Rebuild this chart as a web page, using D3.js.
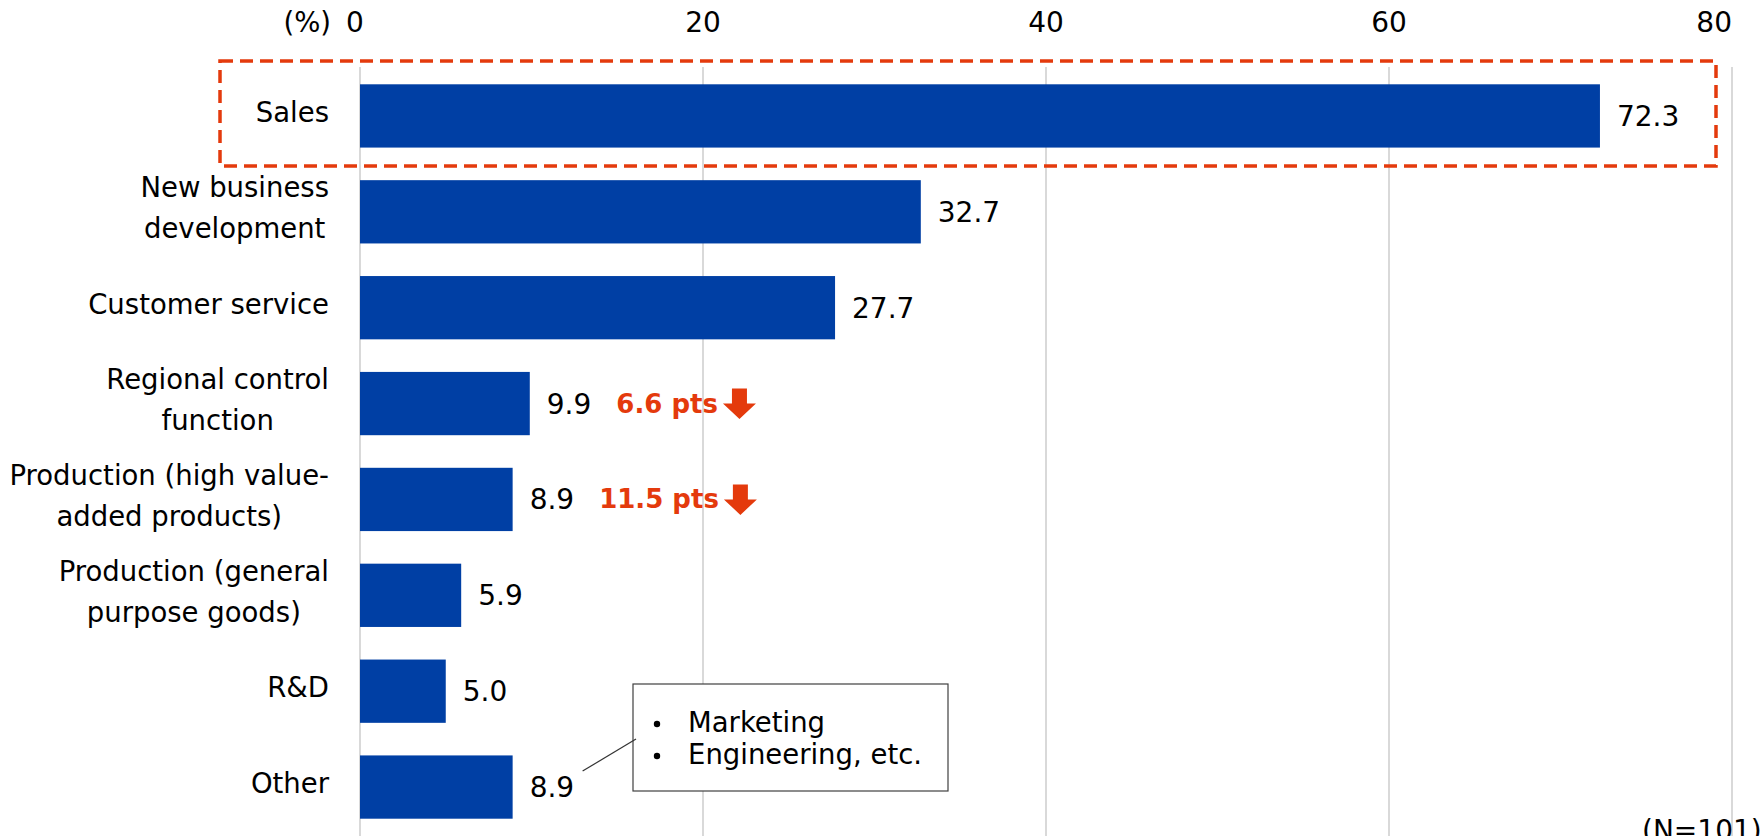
<!DOCTYPE html>
<html>
<head>
<meta charset="utf-8">
<script src="https://cdn.jsdelivr.net/npm/d3@7"></script>
<style>
  html, body { margin: 0; padding: 0; background: #fff; overflow: hidden; }
  svg { display: block; font-family: "DejaVu Sans", Verdana, sans-serif; }
</style>
</head>
<body>
<svg id="chart" width="1762" height="836"></svg>
<script>
// Functions expected to be expanded (multiple answers), share of respondents
const categories = [
  ["Sales"],
  ["New business", "development"],
  ["Customer service"],
  ["Regional control", "function"],
  ["Production (high value-", "added products)"],
  ["Production (general", "purpose goods)"],
  ["R&D"],
  ["Other"]
];
const values = [72.3, 32.7, 27.7, 9.9, 8.9, 5.9, 5.0, 8.9];
const xTicks = [0, 20, 40, 60, 80];
// Decline versus previous survey, keyed by category index
const declines = [{ index: 3, label: "6.6 pts" }, { index: 4, label: "11.5 pts" }];
const otherNotes = ["Marketing", "Engineering, etc."];
const unitLabel = "(%)";
const sampleLabel = "(N=101)";

const BLUE = "#003fa4";
const RED = "#e43a0c";
const GRID = "#d9d9d9";
const FS = 27.5;
const NUM_FS = 28;

const svg = d3.select("#chart");
const keys = categories.map((c, i) => i);

const x = d3.scaleLinear().domain([0, 80]).range([360, 1732]);
const y = d3.scaleBand().domain(keys).range([68, 835]).paddingInner(0.34).paddingOuter(0.17);

// Vertical gridlines
svg.append("g").selectAll("line").data(xTicks).join("line")
  .attr("x1", d => x(d)).attr("x2", d => x(d))
  .attr("y1", 67).attr("y2", 836)
  .attr("stroke", GRID).attr("stroke-width", 2);

// Top tick labels
svg.append("g").selectAll("text").data(xTicks).join("text")
  .attr("x", (d, i) => x(d) + (i === 0 ? -5 : 0))
  .attr("y", 32)
  .attr("text-anchor", (d, i) => i === xTicks.length - 1 ? "end" : "middle")
  .attr("font-size", NUM_FS).attr("fill", "#000")
  .text(d => d);

svg.append("text")
  .attr("x", 331).attr("y", 32)
  .attr("text-anchor", "end")
  .attr("font-size", FS).attr("fill", "#000")
  .text(unitLabel);

// Bars
svg.append("g").selectAll("rect").data(values).join("rect")
  .attr("x", x(0))
  .attr("y", (d, i) => y(i))
  .attr("width", d => x(d) - x(0))
  .attr("height", y.bandwidth())
  .attr("fill", BLUE);

// Value labels
const valueLabels = svg.append("g").selectAll("text").data(values).join("text")
  .attr("x", d => x(d) + 17)
  .attr("y", (d, i) => y(i) + y.bandwidth() / 2 + 10)
  .attr("font-size", NUM_FS).attr("fill", "#000")
  .text(d => d.toFixed(1));

// Category labels: lines centred within a right-aligned block
const lineH = 41;
const labelRight = 329;
const catG = svg.append("g");
categories.forEach((lines, i) => {
  const cy = y(i) + y.bandwidth() / 2;
  const g = catG.append("g");
  const texts = lines.map((ln, j) => g.append("text")
    .attr("font-size", FS).attr("fill", "#000")
    .attr("text-anchor", "middle")
    .attr("y", cy + 6 + (j - (lines.length - 1) / 2) * lineH)
    .text(ln));
  const maxW = d3.max(texts, t => t.node().getComputedTextLength());
  texts.forEach(t => t.attr("x", labelRight - maxW / 2));
});

// Highlight frame around the top category
svg.append("rect")
  .attr("x", 220).attr("y", 61)
  .attr("width", 1716 - 220).attr("height", 166 - 61)
  .attr("fill", "none").attr("stroke", RED)
  .attr("stroke-width", 3.5).attr("stroke-dasharray", "13 7");

// Decline annotations with downward arrows, placed after each value label
declines.forEach(dc => {
  const cy = y(dc.index) + y.bandwidth() / 2;
  const vNode = valueLabels.nodes()[dc.index];
  const startX = x(values[dc.index]) + 17 + vNode.getComputedTextLength() + 25;
  const t = svg.append("text")
    .attr("x", startX).attr("y", cy + 9)
    .attr("font-size", 26).attr("font-weight", "bold").attr("fill", RED)
    .text(dc.label);
  const ax = startX + t.node().getComputedTextLength() + 5;
  const hw = 33, sw = 15;
  const cx = ax + hw / 2;
  const p = d3.path();
  p.moveTo(cx - sw / 2, cy - 15);
  p.lineTo(cx + sw / 2, cy - 15);
  p.lineTo(cx + sw / 2, cy);
  p.lineTo(cx + hw / 2, cy);
  p.lineTo(cx, cy + 15.5);
  p.lineTo(cx - hw / 2, cy);
  p.lineTo(cx - sw / 2, cy);
  p.closePath();
  svg.append("path").attr("d", p.toString()).attr("fill", RED);
});

// Callout listing what "Other" includes
const box = { x0: 633, y0: 684, x1: 948, y1: 791 };
svg.append("rect")
  .attr("x", box.x0).attr("y", box.y0)
  .attr("width", box.x1 - box.x0).attr("height", box.y1 - box.y0)
  .attr("fill", "#fff").attr("stroke", "#404040").attr("stroke-width", 1.2);
const otherIdx = categories.length - 1;
const oy = y(otherIdx) + y.bandwidth() / 2;
svg.append("line")
  .attr("x1", x(values[otherIdx]) + 70).attr("y1", oy - 16)
  .attr("x2", box.x0 + 3).attr("y2", 739)
  .attr("stroke", "#333").attr("stroke-width", 1.2);
otherNotes.forEach((n, j) => {
  const by = 732 + j * 32;
  svg.append("circle").attr("cx", 657).attr("cy", by - 8).attr("r", 3.2).attr("fill", "#000");
  svg.append("text").attr("x", 688).attr("y", by)
    .attr("font-size", FS).attr("fill", "#000").text(n);
});

// Sample size note, running off the lower edge
svg.append("text")
  .attr("x", 1642).attr("y", 840)
  .attr("font-size", NUM_FS).attr("fill", "#000")
  .text(sampleLabel);
</script>
</body>
</html>
